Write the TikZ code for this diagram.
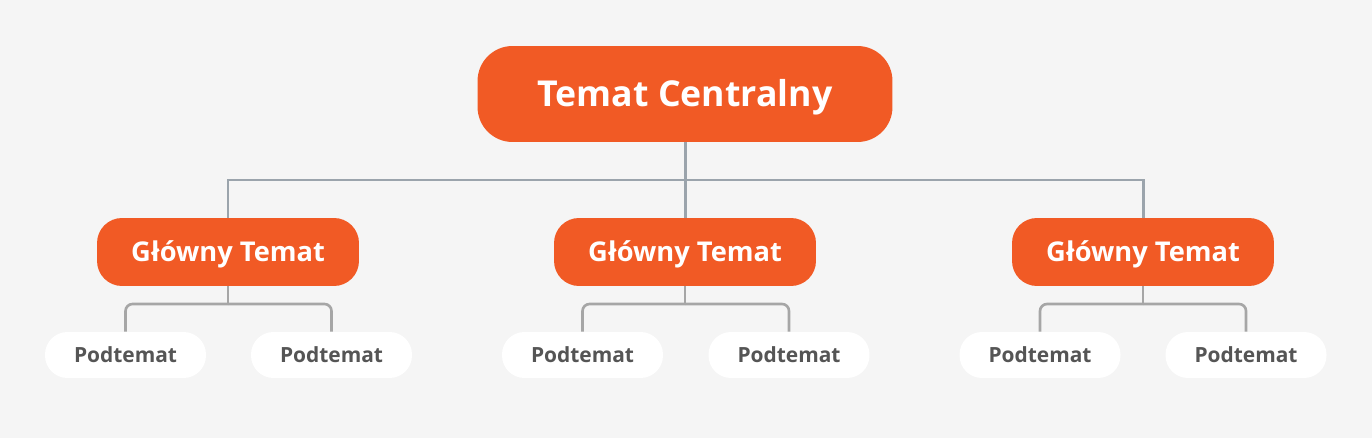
\documentclass[tikz,border=0pt]{standalone}
\usepackage{fontspec}
\setmainfont{Open Sans}
\usetikzlibrary{calc}
\definecolor{pagegray}{HTML}{F5F5F5}
\definecolor{topicorange}{HTML}{F15A25}
\definecolor{trunkgray}{HTML}{9BA4AC}
\definecolor{twiggray}{HTML}{A6A6A6}
\definecolor{subtext}{HTML}{555555}
\begin{document}
\begin{tikzpicture}[x=0.02cm,y=-0.02cm,
    central/.style={fill=topicorange, text=white, rounded corners=0.7cm, inner sep=0pt,
      minimum width=8.3cm, minimum height=1.92cm, text height=14.5pt, text depth=0pt,
      font=\fontsize{20.3}{24}\selectfont\bfseries},
    maintopic/.style={fill=topicorange, text=white, rounded corners=0.5cm, inner sep=0pt,
      minimum width=5.24cm, minimum height=1.36cm, text height=11.1pt, text depth=0pt,
      font=\fontsize{15.5}{19}\selectfont\bfseries},
    subtopic/.style={fill=white, text=subtext, rounded corners=0.45cm, inner sep=0pt,
      minimum width=3.22cm, minimum height=0.92cm, text height=8.5pt, text depth=0pt,
      font=\fontsize{11.9}{14}\selectfont\bfseries},
    trunk/.style={draw=trunkgray, line width=1.7pt},
    twig/.style={draw=twiggray, line width=1.5pt, rounded corners=4pt}]
            \fill[pagegray] (0,0) rectangle (1372,438);
            \node[central] (Cent) at (685,94) {Temat Centralny};
            \node[maintopic] (Main0) at (228,252) {Główny Temat};
            \node[maintopic] (Main1) at (685,252) {Główny Temat};
            \node[maintopic] (Main2) at (1143,252) {Główny Temat};
            \node[subtopic] (Sub0) at (125.5,355) {Podtemat};
            \node[subtopic] (Sub1) at (331.5,355) {Podtemat};
            \node[subtopic] (Sub2) at (582.5,355) {Podtemat};
            \node[subtopic] (Sub3) at (789,355) {Podtemat};
            \node[subtopic] (Sub4) at (1040,355) {Podtemat};
            \node[subtopic] (Sub5) at (1246,355) {Podtemat};
            \coordinate (J) at (685,180);
            \coordinate (J0) at (228,304);
            \coordinate (J1) at (685,304);
            \coordinate (J2) at (1143,304);
            % central topic to main topics
            \draw[trunk] (Cent.south) -- (J);
            \draw[trunk] (J) -| (Main0.north);
            \draw[trunk] (J) -- (Main1.north);
            \draw[trunk] (J) -| (Main2.north);
            % main topics to subtopics
            \draw[twig] (Main0.south) -- (J0);
            \draw[twig] (J0) -| (Sub0.north);
            \draw[twig] (J0) -| (Sub1.north);
            \draw[twig] (Main1.south) -- (J1);
            \draw[twig] (J1) -| (Sub2.north);
            \draw[twig] (J1) -| (Sub3.north);
            \draw[twig] (Main2.south) -- (J2);
            \draw[twig] (J2) -| (Sub4.north);
            \draw[twig] (J2) -| (Sub5.north);
        \end{tikzpicture}
\end{document}
